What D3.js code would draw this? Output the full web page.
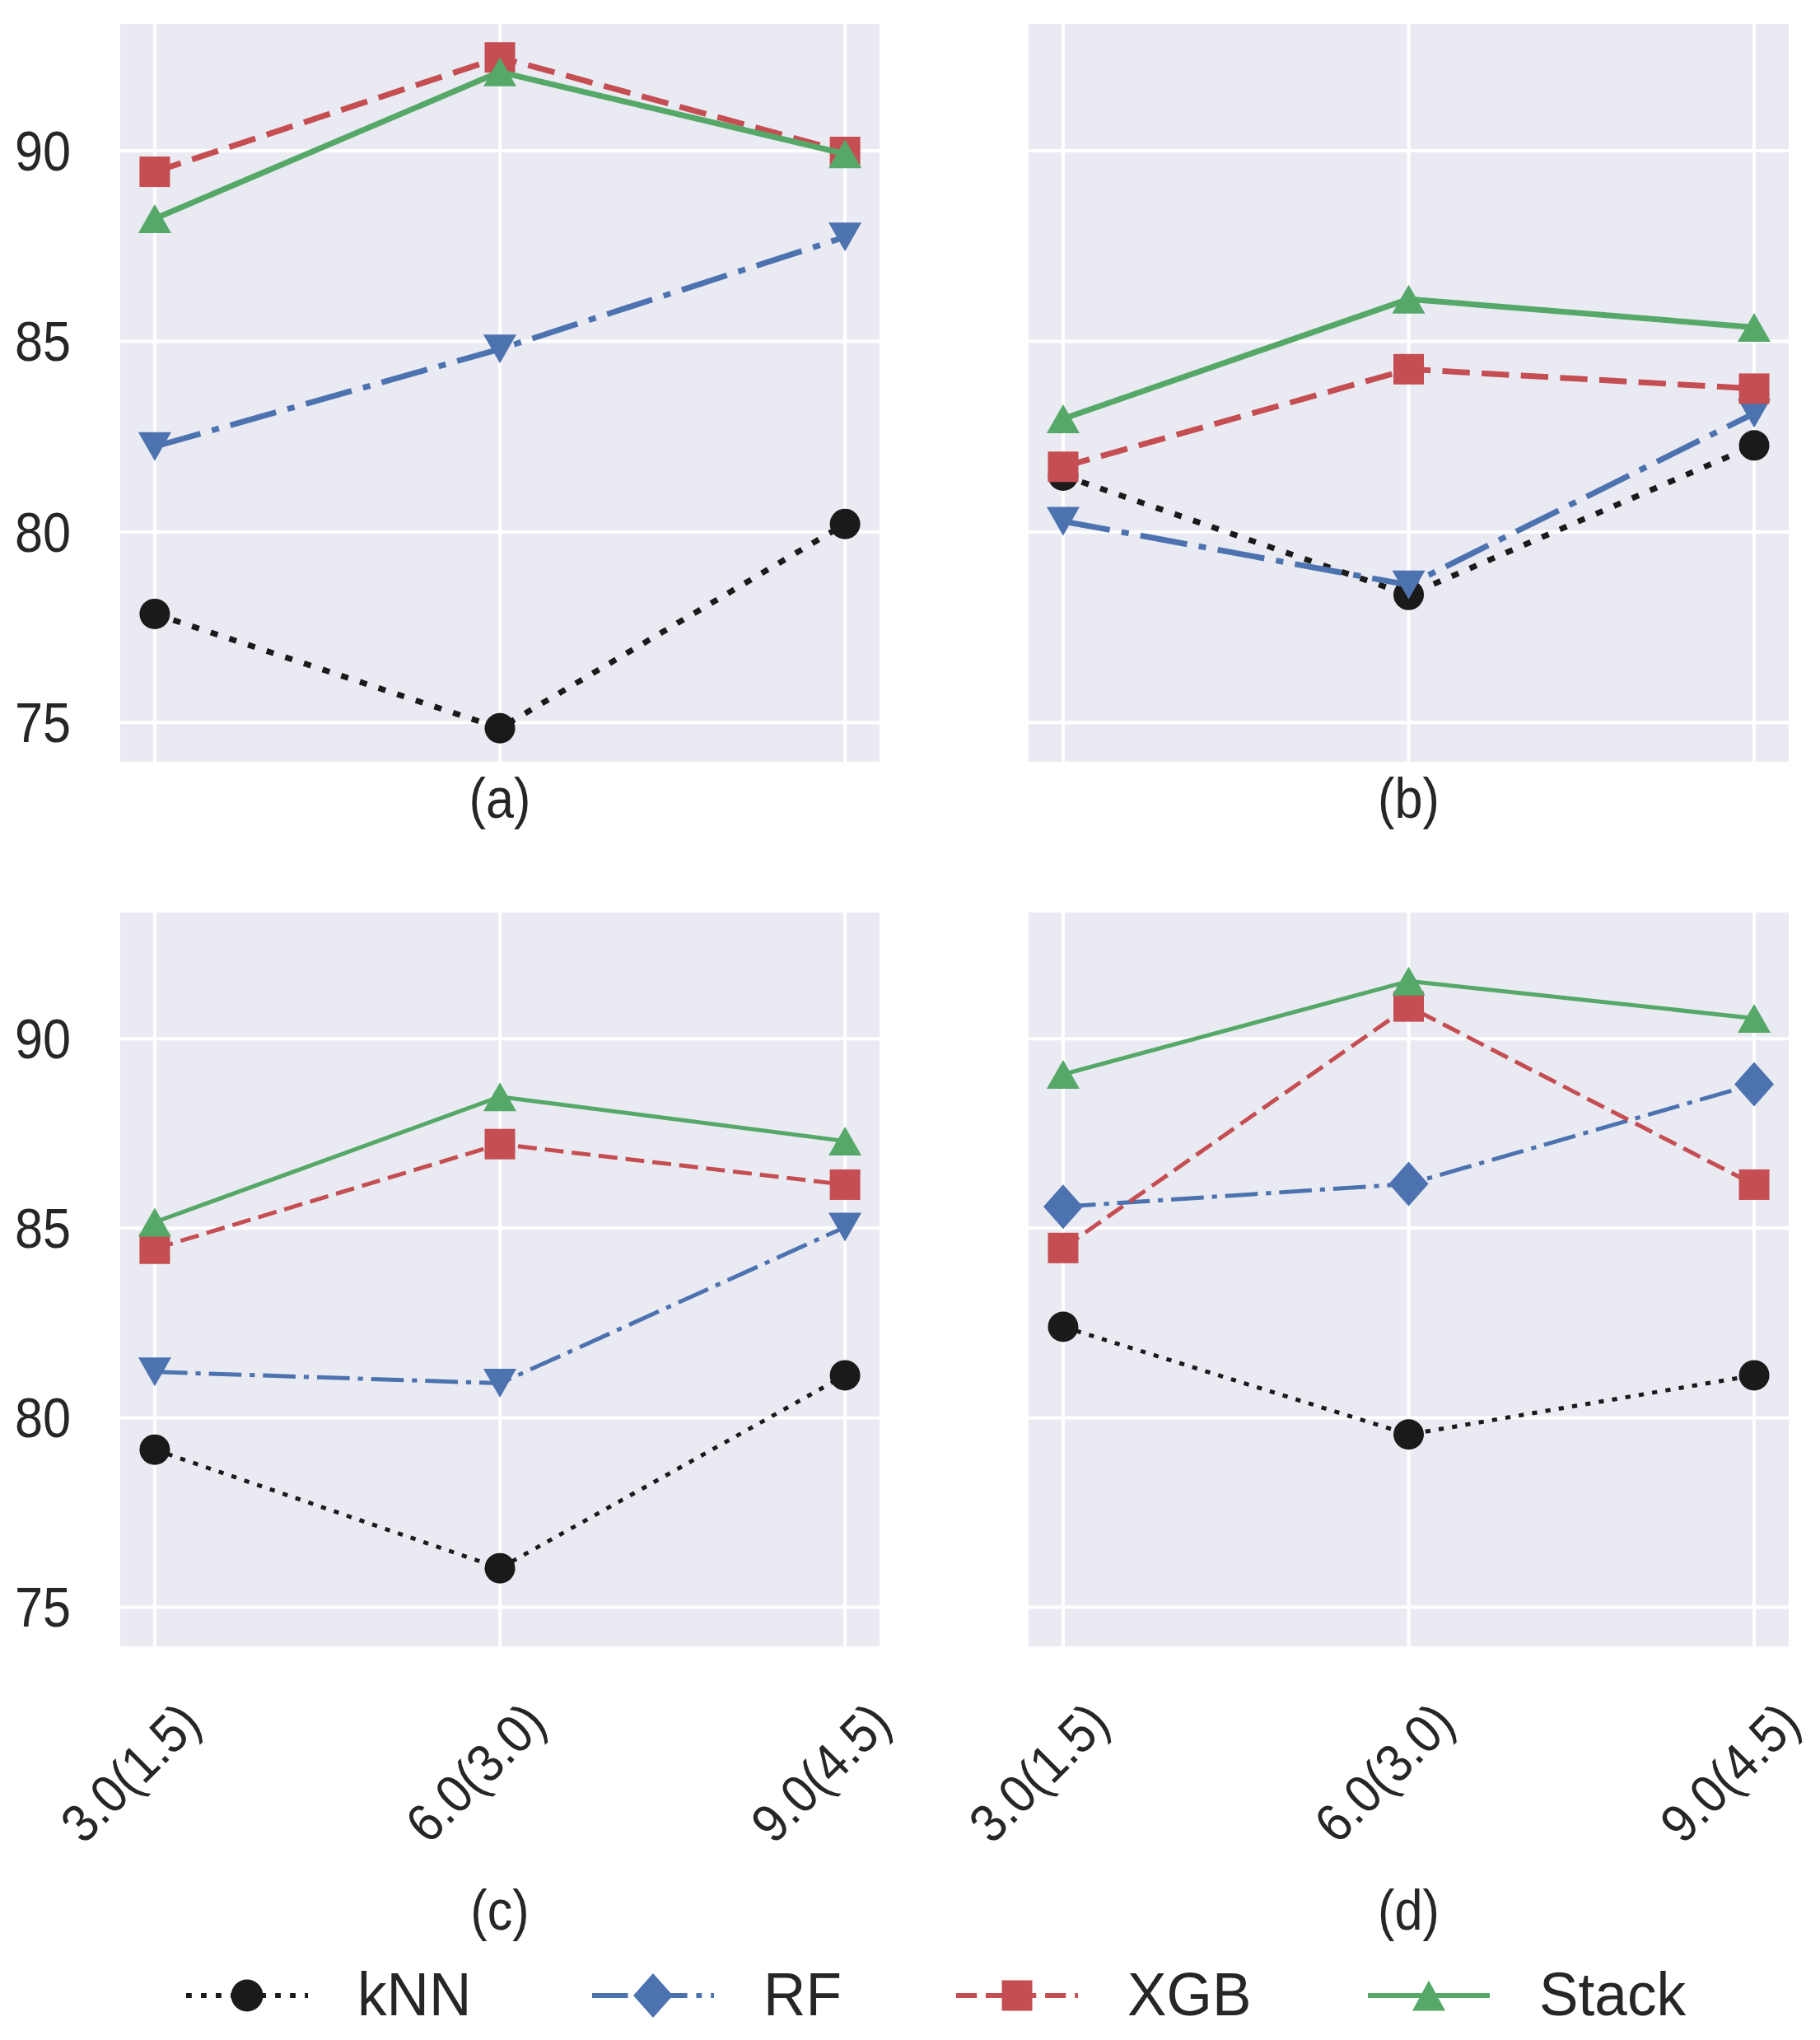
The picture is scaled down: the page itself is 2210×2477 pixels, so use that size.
<!DOCTYPE html>
<html>
<head>
<meta charset="utf-8">
<script src="https://cdn.jsdelivr.net/npm/d3@7"></script>
<style>
body { margin: 0; background: #fff; }
text { font-family: "Liberation Sans", Arial, sans-serif; fill: #262626; }
</style>
</head>
<body>
<svg id="base" width="2210" height="2477"></svg>
<script>
// values: one row per panel (a)..(d), one column per category
const categories = ["3.0(1.5)", "6.0(3.0)", "9.0(4.5)"]
const panelNames = ["(a)", "(b)", "(c)", "(d)"]
const modelNames = ["kNN", "RF", "XGB", "Stack"]
const knnAcc = [[77.85, 74.85, 80.21], [81.48, 78.35, 82.27], [79.16, 76.03, 81.12], [82.40, 79.56, 81.12]]
const rfAcc = [[82.24, 84.80, 87.74], [80.28, 78.61, 83.11], [81.21, 80.91, 85.03], [85.57, 86.17, 88.80]]
const xgbAcc = [[89.45, 92.45, 89.97], [81.71, 84.27, 83.76], [84.46, 87.22, 86.15], [84.48, 90.85, 86.15]]
const stackAcc = [[88.22, 92.07, 89.92], [82.97, 86.11, 85.37], [85.16, 88.47, 87.30], [89.06, 91.52, 90.54]]
const yTicks = [75, 80, 85, 90]
const rfMarkers = ["tridown", "tridown", "tridown", "diamond"] // panel (d) used diamonds

const bg = '#eaeaf2'
const panels = [
    {x0: 146, x1: 1068, y0: 29, y1: 925, lw: 7, unit: 9},
    {x0: 1249, x1: 2172, y0: 29, y1: 925, lw: 7, unit: 9},
    {x0: 146, x1: 1068, y0: 1108, y1: 1999, lw: 5, unit: 6.2},
    {x0: 1249, x1: 2172, y0: 1108, y1: 1999, lw: 5, unit: 6.2}
]
const series = [
    {vals: knnAcc, color: '#1a1a1a', dash: [1, 1.65], marker: 'circle'},
    {vals: rfAcc, color: '#4c72b0', dash: [6.4, 1.6, 1, 1.6], marker: rfMarkers},
    {vals: xgbAcc, color: '#c44e52', dash: [3.7, 1.6], marker: 'square'},
    {vals: stackAcc, color: '#55a868', dash: null, marker: 'triup'}
]

// shared y like sharey=True, 5% margins
let all = [knnAcc, rfAcc, xgbAcc, stackAcc].flat(2)
let lo = d3.min(all), hi = d3.max(all)
let pad = (hi - lo) * 0.05

const base = d3.select('#base')

function hText(g, x, y, str, size, anchor, sx) {
    return g.append('text')
        .attr('transform', `translate(${x},${y}) scale(${sx},1)`)
        .attr('text-anchor', anchor)
        .attr('dominant-baseline', 'central')
        .style('font-size', size + 'px')
        .text(str)
}

function drawMarker(g, kind, cx, cy, color, big) {
    let k = big ? 1.05 : 1
    if (kind == 'circle') {
        g.append('circle').attr('cx', cx).attr('cy', cy).attr('r', 18.5 * k).attr('fill', color)
    } else if (kind == 'square') {
        g.append('rect').attr('x', cx - 18.5).attr('y', cy - 18.5)
            .attr('width', 37).attr('height', 37).attr('fill', color)
    } else if (kind == 'triup' || kind == 'tridown') {
        let w = 20, h = 17.5 * k
        let s = kind == 'triup' ? 1 : -1
        g.append('path')
            .attr('d', `M${cx},${cy - s * h}L${cx + w},${cy + s * h}L${cx - w},${cy + s * h}Z`)
            .attr('fill', color)
    } else if (kind == 'diamond') {
        g.append('path')
            .attr('d', `M${cx},${cy - 27}L${cx + 24},${cy}L${cx},${cy + 27}L${cx - 24},${cy}Z`)
            .attr('fill', color)
    }
}

panels.forEach((p, pi) => {
    const g = base.append('g')
    const x = d3.scalePoint().domain(categories).range([p.x0, p.x1]).padding(0.1)
    const y = d3.scaleLinear().domain([lo - pad, hi + pad]).range([p.y1, p.y0])

    g.append('rect').attr('x', p.x0).attr('y', p.y0)
        .attr('width', p.x1 - p.x0).attr('height', p.y1 - p.y0).attr('fill', bg)

    // grid
    g.selectAll('.hg').data(yTicks).enter().append('line')
        .attr('x1', p.x0).attr('x2', p.x1)
        .attr('y1', d => y(d)).attr('y2', d => y(d))
        .style('stroke', '#fff').style('stroke-width', 4)
    g.selectAll('.vg').data(categories).enter().append('line')
        .attr('x1', d => x(d)).attr('x2', d => x(d))
        .attr('y1', p.y0).attr('y2', p.y1)
        .style('stroke', '#fff').style('stroke-width', 4)

    // y tick labels on the left column only
    if (pi % 2 == 0) {
        yTicks.forEach(t => hText(g, 86, y(t), t, 68, 'end', 0.9))
    }
    // rotated x tick labels on the bottom row only
    if (pi >= 2) {
        categories.forEach(c => {
            g.append('text')
                .attr('transform', `translate(${x(c) - 30},2152) rotate(-45) scale(0.92,1)`)
                .attr('text-anchor', 'middle')
                .attr('dominant-baseline', 'central')
                .style('font-size', '65px')
                .text(c)
        })
    }
    let capY = pi < 2 ? 969 : 2319
    hText(g, (p.x0 + p.x1) / 2, capY, panelNames[pi], 68, 'middle', 0.9)

    const clip = 'clip' + pi
    g.append('clipPath').attr('id', clip).append('rect')
        .attr('x', p.x0).attr('y', p.y0).attr('width', p.x1 - p.x0).attr('height', p.y1 - p.y0)
    const plot = g.append('g').attr('clip-path', `url(#${clip})`)

    const line = d3.line().x((d, i) => x(categories[i])).y(d => y(d))
    series.forEach(s => {
        let vals = s.vals[pi]
        plot.append('path')
            .attr('d', line(vals))
            .attr('fill', 'none')
            .style('stroke', s.color)
            .style('stroke-width', p.lw)
            .style('stroke-linejoin', 'round')
            .style('stroke-dasharray', s.dash ? s.dash.map(v => v * p.unit).join(',') : null)
        let mk = Array.isArray(s.marker) ? s.marker[pi] : s.marker
        vals.forEach((v, i) => drawMarker(plot, mk, x(categories[i]), y(v), s.color, false))
    })
})

// legend
const legendX = [226, 719, 1161, 1661]
const legendMarkers = ['circle', 'diamond', 'square', 'triup']
const lg = base.append('g')
modelNames.forEach((name, i) => {
    let s = series[i]
    let x0 = legendX[i], yl = 2423
    lg.append('line')
        .attr('x1', x0).attr('x2', x0 + 148).attr('y1', yl).attr('y2', yl)
        .style('stroke', s.color).style('stroke-width', 6)
        .style('stroke-dasharray', s.dash ? s.dash.map(v => v * 6.8).join(',') : null)
    drawMarker(lg, legendMarkers[i], x0 + 74, yl, s.color, true)
    hText(lg, x0 + 208, 2421, name, 75, 'start', 0.95)
})
</script>
</body>
</html>
